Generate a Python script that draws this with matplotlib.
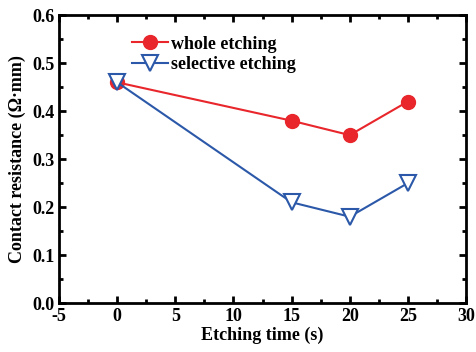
import matplotlib
matplotlib.use("Agg")
import matplotlib.pyplot as plt
from matplotlib.ticker import MultipleLocator

etch_time = [0, 15, 20, 25]
whole = [0.46, 0.38, 0.35, 0.42]
selective = [0.46, 0.21, 0.18, 0.25]

plt.rcParams['font.family'] = ['Liberation Serif', 'DejaVu Serif']
plt.rcParams['font.weight'] = 'bold'
plt.rcParams['axes.unicode_minus'] = False

fig = plt.figure(figsize=(4.76, 3.52), dpi=100)
ax = fig.add_axes([0.124, 0.139, 0.855, 0.818])

ax.plot(etch_time, whole, color='#e8262b', lw=1.5, marker='o', ms=10,
        label='whole etching')
ax.plot(etch_time, selective, color='#2b58a8', lw=1.5, marker='v', ms=11,
        mfc='white', mew=1.5, label='selective etching')

ax.set_xlim(-5, 30)
ax.set_ylim(0, 0.6)
ax.xaxis.set_major_locator(MultipleLocator(5))
ax.xaxis.set_minor_locator(MultipleLocator(2.5))
ax.yaxis.set_major_locator(MultipleLocator(0.1))
ax.yaxis.set_minor_locator(MultipleLocator(0.05))
ax.yaxis.set_major_formatter(plt.FormatStrFormatter('%.1f'))
ax.tick_params(which='both', direction='in', top=True, right=True, width=2)
ax.tick_params(which='major', length=5, labelsize=13)
ax.tick_params(which='minor', length=3)
for s in ax.spines.values():
    s.set_linewidth(2)

ax.set_xlabel('Etching time (s)', fontsize=13, fontweight='bold', labelpad=1)
ax.set_ylabel('Contact resistance (\u03a9\u00b7mm)', fontsize=13, fontweight='bold',
              labelpad=4)

ax.legend(loc='upper left', bbox_to_anchor=(0.14, 0.985), frameon=False,
          handlelength=2.0, handletextpad=0.15, labelspacing=0.2,
          prop={'weight': 'bold', 'size': 13})

fig.savefig('out.png', dpi=100)
